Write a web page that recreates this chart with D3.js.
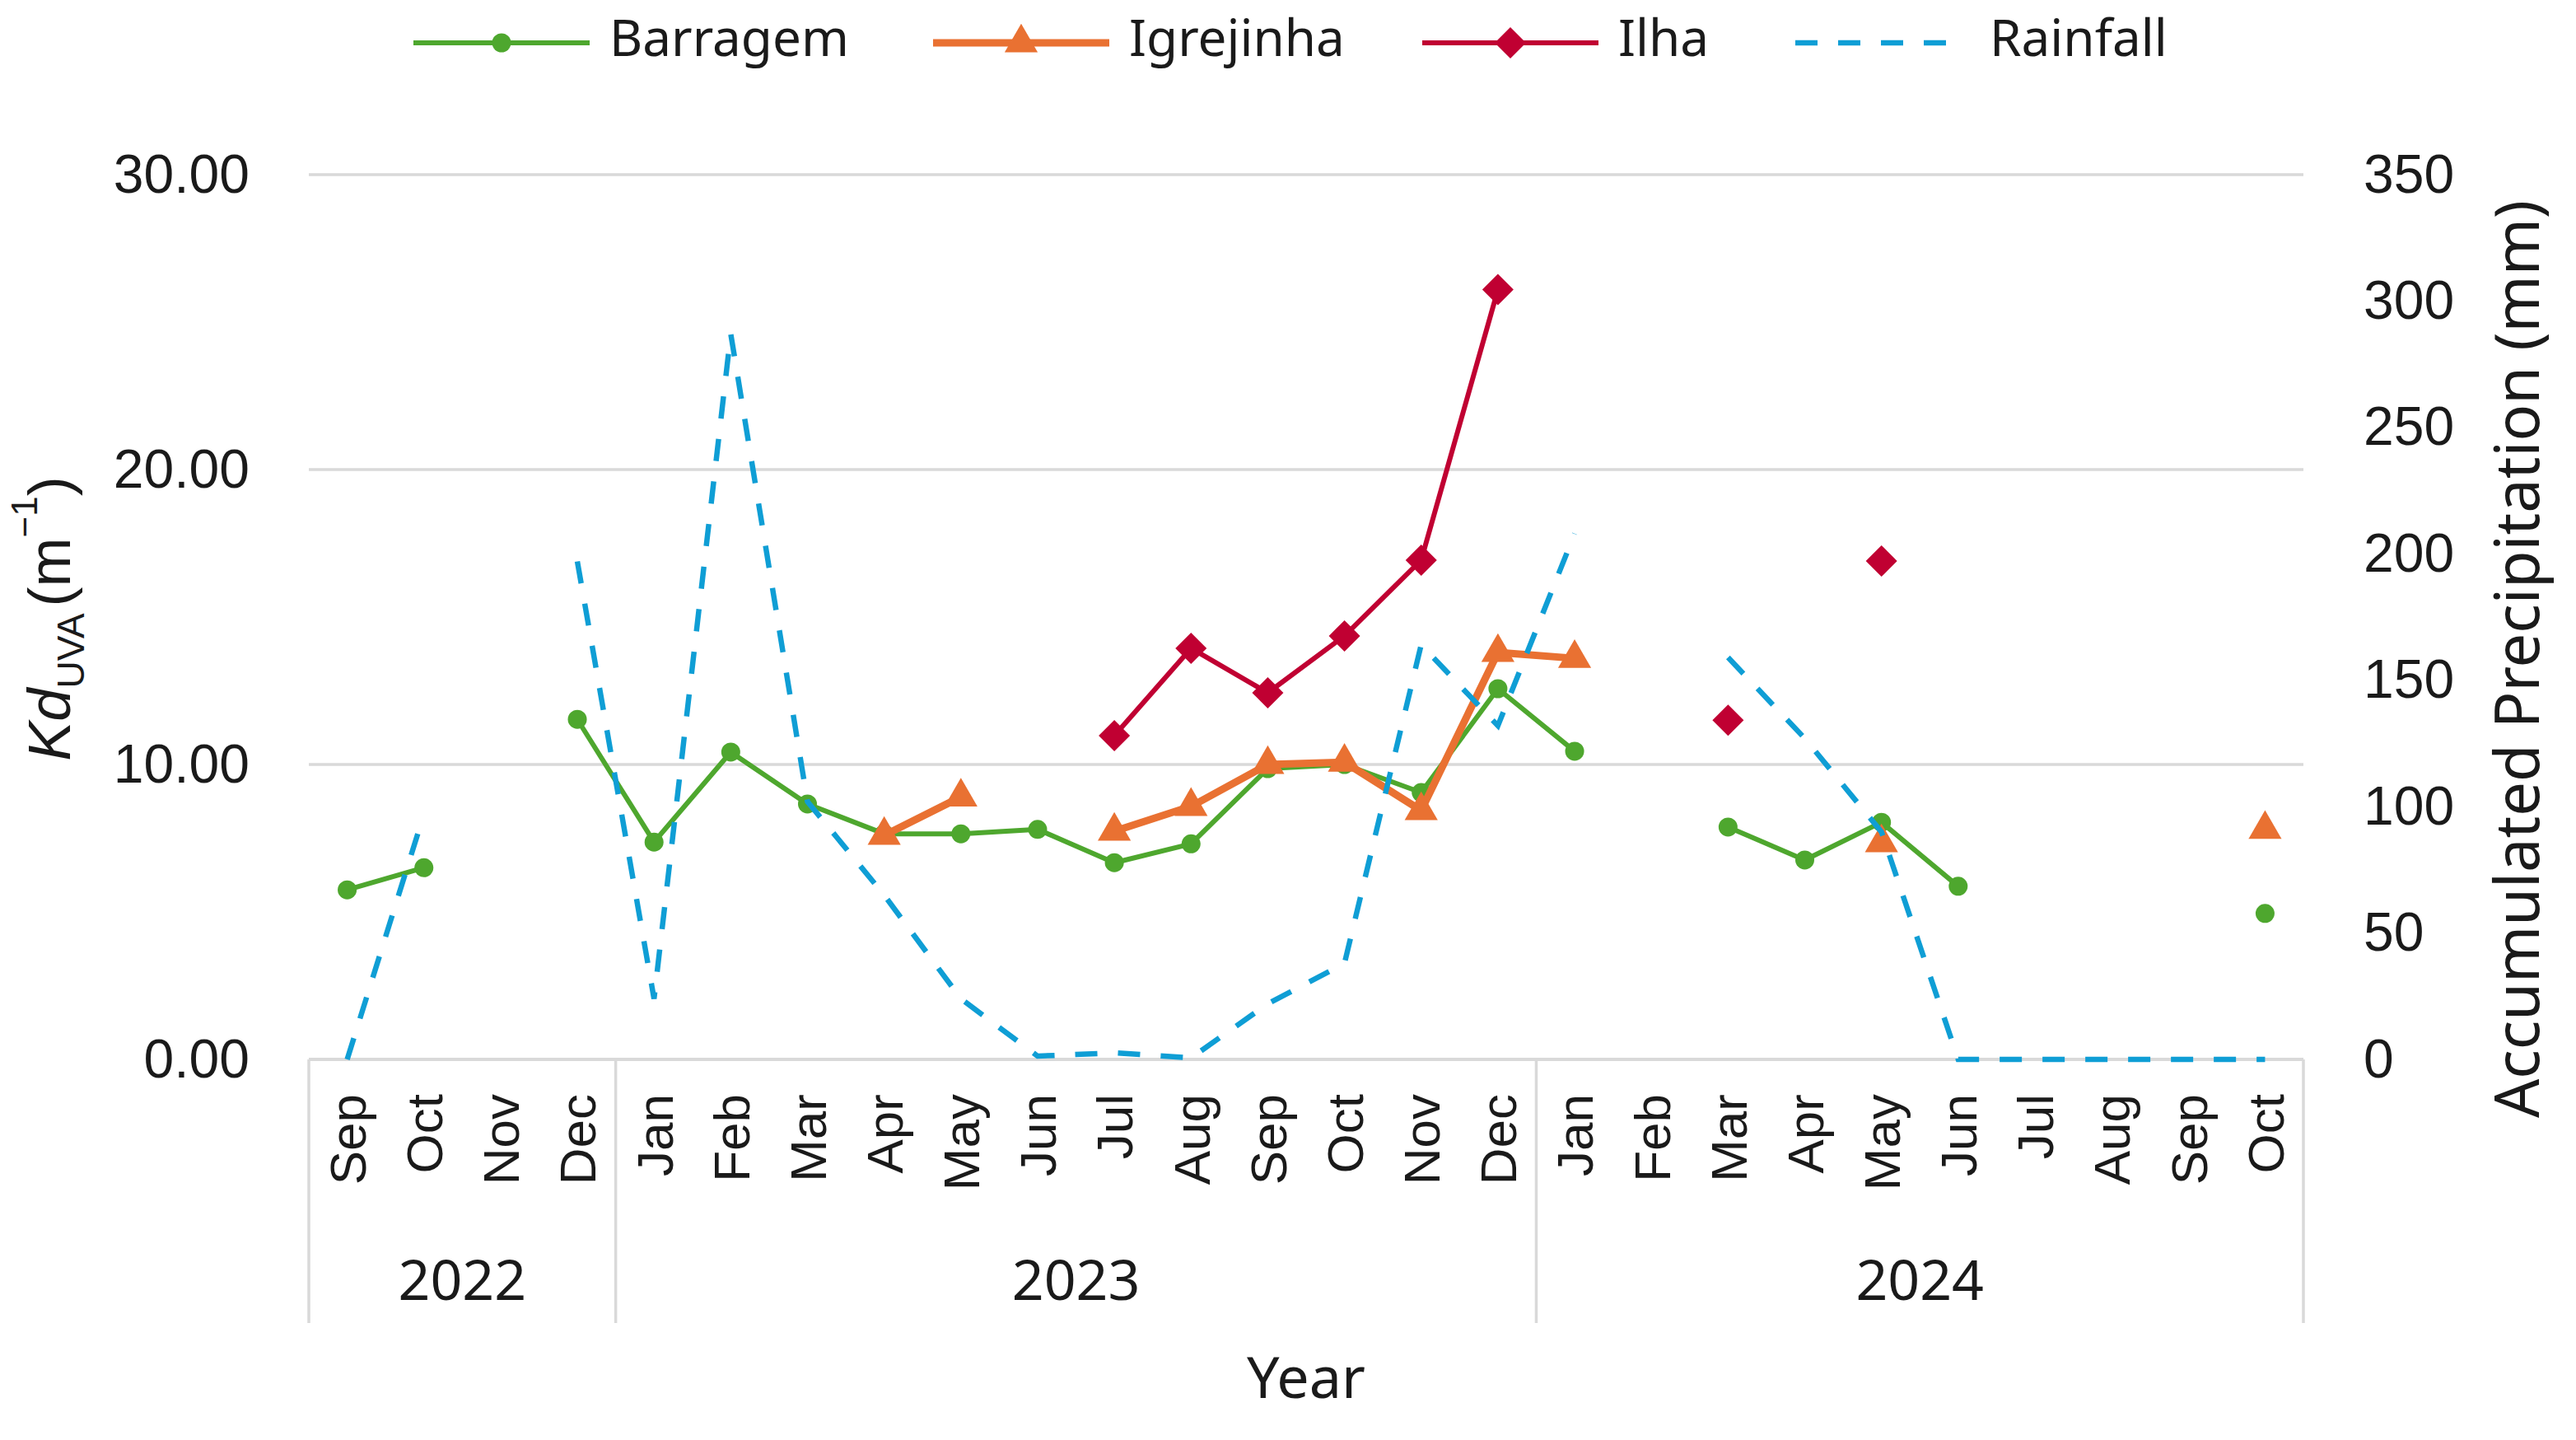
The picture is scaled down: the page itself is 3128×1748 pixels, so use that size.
<!DOCTYPE html>
<html>
<head>
<meta charset="utf-8">
<script src="https://cdn.jsdelivr.net/npm/d3@7"></script>
<style>
  html, body { margin: 0; padding: 0; background: #fff; }
  svg { display: block; }
</style>
</head>
<body>
<div id="container"></div>
<script>
var w = 3128;
var h = 1748;

// data
var months = ["Sep","Oct","Nov","Dec","Jan","Feb","Mar","Apr","May","Jun","Jul","Aug",
              "Sep","Oct","Nov","Dec","Jan","Feb","Mar","Apr","May","Jun","Jul","Aug","Sep","Oct"];
var years = ["2022", "2023", "2024"];
var yearCounts = [4, 12, 10];

var barragem  = [5.75, 6.5, null, 11.53, 7.37, 10.42, 8.66, 7.65, 7.65, 7.8, 6.67, 7.31,
                 9.86, 10.0, 9.05, 12.57, 10.45, null, 7.88, 6.76, 8.04, 5.87, null, null, null, 4.95];
var igrejinha = [null, null, null, null, null, null, null, 7.6, 8.9, null, 7.74, 8.58,
                 10.0, 10.08, 8.44, 13.8, 13.6, null, null, null, 7.35, null, null, null, null, 7.8];
var ilha      = [null, null, null, null, null, null, null, null, null, null, 10.98, 13.94,
                 12.43, 14.36, 16.93, 26.1, null, null, 11.5, null, 16.9, null, null, null, null, null];
var rainfall  = [0, 97, null, 197, 24, 287, 102, 65, 24, 1.3, 2.6, 0.6,
                 22, 38, 164, 132, 208, null, 159, 127, 90, 0, 0, 0, 0, 0];

var kdTicks = [0, 10, 20, 30];
var rainTicks = [0, 50, 100, 150, 200, 250, 300, 350];

var green = "#4EA72E", orange = "#E97132", red = "#C00032", blue = "#0F9ED5";
var grid = "#d9d9d9";
var armo = "'Liberation Sans', Arial, sans-serif";
var apt = "'Noto Sans', sans-serif";

var pL = 375, pR = 2797, pT = 212, pB = 1286;

var svg = d3.select("div#container")
    .append("svg")
    .attr("width", w)
    .attr("height", h)
    .attr("viewBox", "0 0 " + w + " " + h);

var x = d3.scaleBand().domain(d3.range(months.length)).range([pL, pR]);
var cx = i => x(i) + x.bandwidth() / 2;
var yL = d3.scaleLinear().domain([0, 30]).range([pB, pT]);
var yR = d3.scaleLinear().domain([0, 350]).range([pB, pT]);

// gridlines
svg.append("g")
  .selectAll("line")
  .data(kdTicks.slice(1))
  .enter().append("line")
    .attr("x1", pL).attr("x2", pR)
    .attr("y1", d => yL(d)).attr("y2", d => yL(d))
    .attr("stroke", grid).attr("stroke-width", 3.5);

// left axis labels
var gl = svg.append("g")
    .attr("transform", "translate(" + pL + ",0)")
    .call(d3.axisLeft(yL).tickValues(kdTicks).tickFormat(d3.format(".2f")).tickSize(0).tickPadding(72));
gl.select(".domain").remove();
gl.selectAll("text").style("font-family", armo).style("font-size", "66px").attr("fill", "#1a1a1a");

// right axis labels
var gr = svg.append("g")
    .attr("transform", "translate(" + pR + ",0)")
    .call(d3.axisRight(yR).tickValues(rainTicks).tickSize(0).tickPadding(73));
gr.select(".domain").remove();
gr.selectAll("text").style("font-family", armo).style("font-size", "66px").attr("fill", "#1a1a1a");

// category axis line
svg.append("line")
    .attr("x1", pL).attr("x2", pR)
    .attr("y1", pB).attr("y2", pB)
    .attr("stroke", grid).attr("stroke-width", 4);

// year group separators
var bounds = [0];
yearCounts.forEach(function(n, i) { bounds.push(bounds[i] + n); });
svg.append("g")
  .selectAll("line")
  .data(bounds)
  .enter().append("line")
    .attr("x1", d => d < months.length ? x(d) : pR)
    .attr("x2", d => d < months.length ? x(d) : pR)
    .attr("y1", pB).attr("y2", 1606)
    .attr("stroke", grid).attr("stroke-width", 3.5);

// month labels
svg.append("g")
  .selectAll("text")
  .data(months)
  .enter().append("text")
    .attr("transform", (d, i) => "translate(" + cx(i) + ",1328) rotate(-90)")
    .attr("text-anchor", "end")
    .attr("dy", "0.36em")
    .style("font-family", armo)
    .style("font-size", "62px")
    .attr("fill", "#1a1a1a")
    .text(d => d);

// year labels
svg.append("g")
  .selectAll("text")
  .data(years)
  .enter().append("text")
    .attr("x", (d, i) => {
      var a = x(bounds[i]);
      var b = bounds[i + 1] < months.length ? x(bounds[i + 1]) : pR;
      return (a + b) / 2;
    })
    .attr("y", 1578)
    .attr("text-anchor", "middle")
    .style("font-family", apt)
    .style("font-size", "68px")
    .attr("fill", "#1a1a1a")
    .text(d => d);

// axis titles
svg.append("text")
    .attr("x", (pL + pR) / 2)
    .attr("y", 1697)
    .attr("text-anchor", "middle")
    .style("font-family", apt)
    .style("font-size", "70px")
    .attr("fill", "#1a1a1a")
    .text("Year");

var lt = svg.append("text")
    .attr("transform", "translate(85,751) rotate(-90)")
    .attr("text-anchor", "middle")
    .style("font-family", armo)
    .style("font-size", "72px")
    .attr("fill", "#1a1a1a");
lt.append("tspan").style("font-style", "italic").text("Kd");
lt.append("tspan").style("font-size", "46px").attr("dy", 17).text("UVA");
lt.append("tspan").attr("dy", -17).attr("dx", 8).text("(m");
lt.append("tspan").style("font-size", "44px").attr("dy", -40).text("\u22121");
lt.append("tspan").attr("dy", 40).text(")");

svg.append("text")
    .attr("transform", "translate(3083,800) rotate(-90)")
    .attr("text-anchor", "middle")
    .style("font-family", apt)
    .style("font-size", "74px")
    .attr("fill", "#1a1a1a")
    .text("Accumulated Precipitation (mm)");

// series
var lineL = d3.line().defined(d => d != null).x((d, i) => cx(i)).y(d => yL(d));
var lineR = d3.line().defined(d => d != null).x((d, i) => cx(i)).y(d => yR(d));

var series = [
  { name: "Barragem",  data: barragem,  color: green,  width: 6, marker: "circle" },
  { name: "Igrejinha", data: igrejinha, color: orange, width: 9, marker: "triangle" },
  { name: "Ilha",      data: ilha,      color: red,    width: 6, marker: "diamond" }
];

var triangle = d3.symbol(d3.symbolTriangle, 700)();
var diamond = d3.symbol(d3.symbolSquare, 722)();

function drawMarker(g, type, color) {
  if (type === "circle") {
    g.append("circle").attr("r", 11.5).attr("fill", color);
  } else if (type === "triangle") {
    g.append("path").attr("d", triangle).attr("fill", color);
  } else {
    g.append("path").attr("d", diamond).attr("transform", "rotate(45)").attr("fill", color);
  }
}

series.forEach(function(s) {
  svg.append("path")
      .datum(s.data)
      .attr("d", lineL)
      .attr("fill", "none")
      .attr("stroke", s.color)
      .attr("stroke-width", s.width)
      .attr("stroke-linejoin", "round");
  svg.append("g")
    .selectAll("g")
    .data(s.data.map((v, i) => ({ v: v, i: i })).filter(d => d.v != null))
    .enter().append("g")
      .attr("transform", d => "translate(" + cx(d.i) + "," + yL(d.v) + ")")
      .each(function() { drawMarker(d3.select(this), s.marker, s.color); });
});

svg.append("path")
    .datum(rainfall)
    .attr("d", lineR)
    .attr("fill", "none")
    .attr("stroke", blue)
    .attr("stroke-width", 6.5)
    .attr("stroke-dasharray", "27 25");

// legend
var legend = [
  { name: "Barragem",  x0: 502,  color: green,  width: 6,   marker: "circle" },
  { name: "Igrejinha", x0: 1133, color: orange, width: 9,   marker: "triangle" },
  { name: "Ilha",      x0: 1727, color: red,    width: 6,   marker: "diamond" },
  { name: "Rainfall",  x0: 2180, color: blue,   width: 6.5, marker: null }
];
var lg = svg.append("g")
  .selectAll("g")
  .data(legend)
  .enter().append("g")
    .attr("transform", d => "translate(" + d.x0 + ",52)");
lg.append("line")
    .attr("x1", 0).attr("x2", d => d.marker ? 214 : 200)
    .attr("stroke", d => d.color)
    .attr("stroke-width", d => d.width)
    .attr("stroke-dasharray", d => d.marker ? null : "27 25");
lg.each(function(d) {
  if (d.marker) {
    var m = d3.select(this).append("g").attr("transform", "translate(107,0)");
    drawMarker(m, d.marker, d.color);
  }
});
lg.append("text")
    .attr("x", d => d.marker ? 238 : 236)
    .attr("y", 16)
    .style("font-family", apt)
    .style("font-size", "62px")
    .attr("fill", "#1a1a1a")
    .text(d => d.name);
</script>
</body>
</html>
